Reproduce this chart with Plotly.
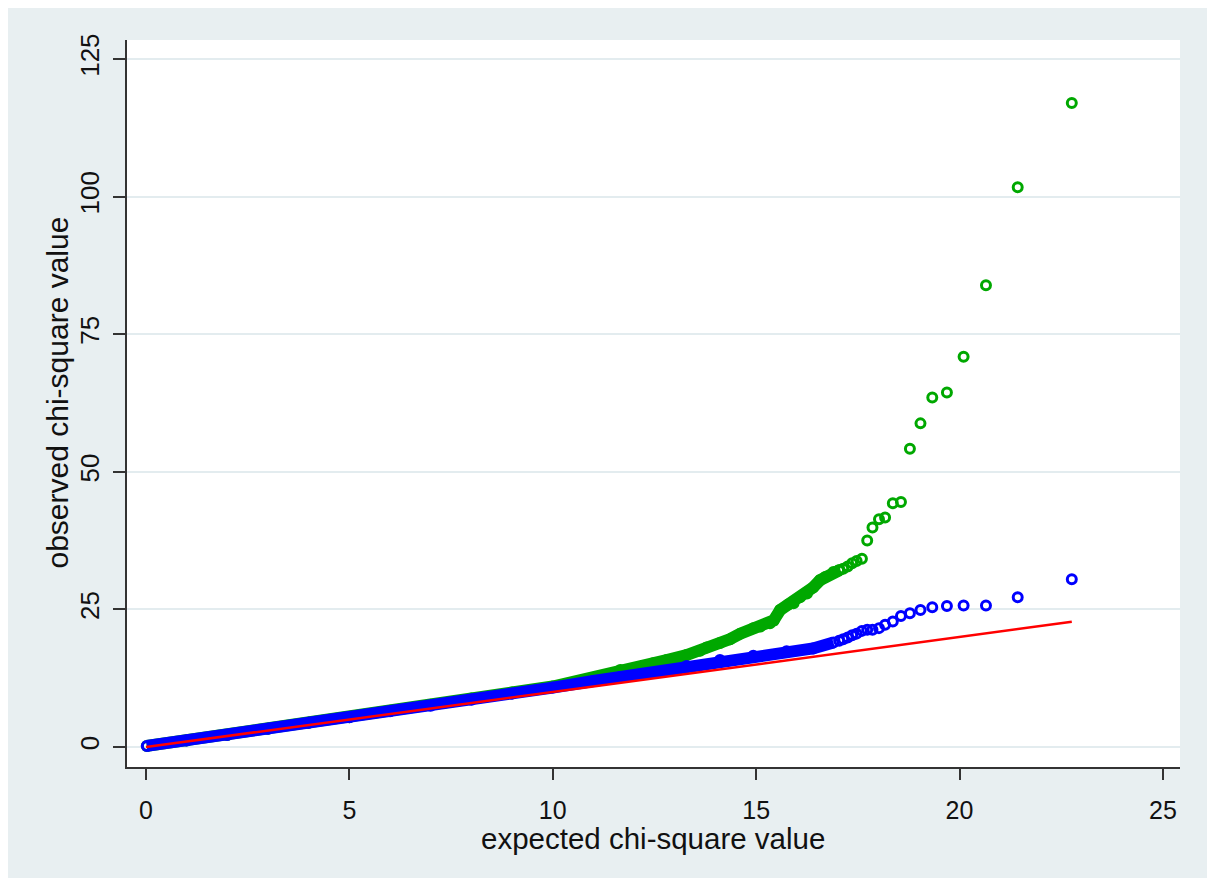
import plotly.graph_objects as go

# Expected chi-square quantiles (dense body of the distribution)
body_expected_green = [0.02, 1, 2, 3, 4, 5, 6, 7, 8, 9, 10, 11, 11.66, 12.15, 12.47, 12.8,
                       13.29, 13.62, 13.78, 14.11, 14.36, 14.61, 14.93, 15.10, 15.34, 15.43,
                       15.59, 15.79, 15.92, 16.08, 16.25, 16.40, 16.57, 16.70, 16.90, 17.04]
body_observed_green = [0.2, 1.2, 2.2, 3.3, 4.4, 5.4, 6.6, 7.7, 8.8, 9.9, 11.0, 12.6, 14.0, 14.3, 15.2, 15.8,
                       16.7, 17.5, 18.1, 18.9, 19.6, 20.6, 21.6, 21.9, 22.5, 23.0,
                       24.9, 25.9, 26.1, 27.2, 27.9, 29.0, 30.3, 30.9, 31.8, 32.1]

body_expected_blue = [0.02, 1, 2, 3, 4, 5, 6, 7, 8, 9, 10, 11, 11.66, 12.15, 13.29,
                      14.11, 14.93, 15.75, 16.40, 16.90]
body_observed_blue = [0.2, 1.2, 2.2, 3.3, 4.4, 5.4, 6.5, 7.5, 8.6, 9.7, 10.8, 12.0, 12.7, 13.2, 14.7,
                      15.8, 16.6, 17.4, 17.9, 19.0]

# Upper tail: individual SNPs with the largest statistics
tail_expected = [22.76, 21.43, 20.65, 20.10, 19.69, 19.33, 19.04, 18.78, 18.56, 18.36,
                 18.17, 18.02, 17.86, 17.73, 17.60, 17.47, 17.36, 17.25, 17.14, 17.04]
tail_observed_green = [117.0, 101.7, 83.9, 70.9, 64.4, 63.5, 58.8, 54.2, 44.5, 44.3,
                       41.7, 41.4, 39.9, 37.5, 34.2, 33.8, 33.4, 32.8, 32.4, 32.1]
tail_observed_blue = [30.5, 27.2, 25.7, 25.7, 25.6, 25.4, 24.9, 24.3, 23.8, 22.8,
                      22.2, 21.6, 21.3, 21.3, 21.1, 20.6, 20.3, 19.9, 19.6, 19.3]

# Line of equality y = x
ref_line = [0, 22.76]

x_ticks = [0, 5, 10, 15, 20, 25]
y_ticks = [0, 25, 50, 75, 100, 125]

GREEN = "#00a800"
BLUE = "#0000ff"
RED = "#ff0000"
BG = "#e8eff1"
GRID = "#e3ecef"
FONT = "Liberation Sans, Arial, sans-serif"


def open_marker(c):
    return dict(symbol="circle-open", size=9, color=c, line=dict(width=3, color=c))


fig = go.Figure()
fig.add_trace(go.Scatter(x=body_expected_green, y=body_observed_green, mode="lines+markers",
                         line=dict(color=GREEN, width=12), marker=open_marker(GREEN),
                         hoverinfo="skip"))
fig.add_trace(go.Scatter(x=tail_expected, y=tail_observed_green, mode="markers",
                         marker=open_marker(GREEN)))
fig.add_trace(go.Scatter(x=body_expected_blue, y=body_observed_blue, mode="lines+markers",
                         line=dict(color=BLUE, width=12), marker=open_marker(BLUE),
                         hoverinfo="skip"))
fig.add_trace(go.Scatter(x=tail_expected, y=tail_observed_blue, mode="markers",
                         marker=open_marker(BLUE)))
fig.add_trace(go.Scatter(x=ref_line, y=ref_line, mode="lines",
                         line=dict(color=RED, width=2.5)))

W, H = 1207, 878
L, R, T, B = 127, 27, 40, 111
pw, ph = W - L - R, H - T - B


def px_x(p):
    return (p - L) / pw


def px_y(p):
    return (H - B - p) / ph


fig.update_layout(
    width=W, height=H,
    margin=dict(l=L, r=R, t=T, b=B, pad=0),
    paper_bgcolor=BG,
    plot_bgcolor="white",
    showlegend=False,
    font=dict(family=FONT, color="#111111", size=26),
    xaxis=dict(range=[-0.467, 25.42], tickvals=x_ticks, showgrid=False, zeroline=False,
               showline=True, linecolor="#333333", linewidth=1.5,
               ticks="outside", ticklen=11, tickwidth=1.5, tickcolor="#333333",
               ticklabelstandoff=9, tickfont=dict(size=25)),
    yaxis=dict(range=[-3.63, 128.45], tickvals=y_ticks, showgrid=True, gridcolor=GRID,
               gridwidth=2, zeroline=False,
               showline=True, linecolor="#333333", linewidth=1.5,
               ticks="outside", ticklen=12, tickwidth=1.5, tickcolor="#333333",
               tickangle=-90, ticklabelstandoff=4, tickfont=dict(size=26)),
    annotations=[
        dict(text="expected chi-square value", xref="paper", yref="paper",
             x=px_x(652.5), y=px_y(838), xanchor="center", yanchor="middle",
             showarrow=False, font=dict(size=29.5, family=FONT, color="#111111")),
        dict(text="observed chi-square value", xref="paper", yref="paper",
             x=px_x(57), y=px_y(392.5), xanchor="center", yanchor="middle",
             textangle=-90, showarrow=False, font=dict(size=30, family=FONT, color="#111111")),
    ],
    shapes=[
        dict(type="rect", xref="paper", yref="paper", x0=px_x(0), x1=px_x(8),
             y0=px_y(H), y1=px_y(0), fillcolor="white", line=dict(width=0), layer="below"),
        dict(type="rect", xref="paper", yref="paper", x0=px_x(0), x1=px_x(W),
             y0=px_y(8), y1=px_y(0), fillcolor="white", line=dict(width=0), layer="below"),
    ],
)

fig.write_html("out.html")
